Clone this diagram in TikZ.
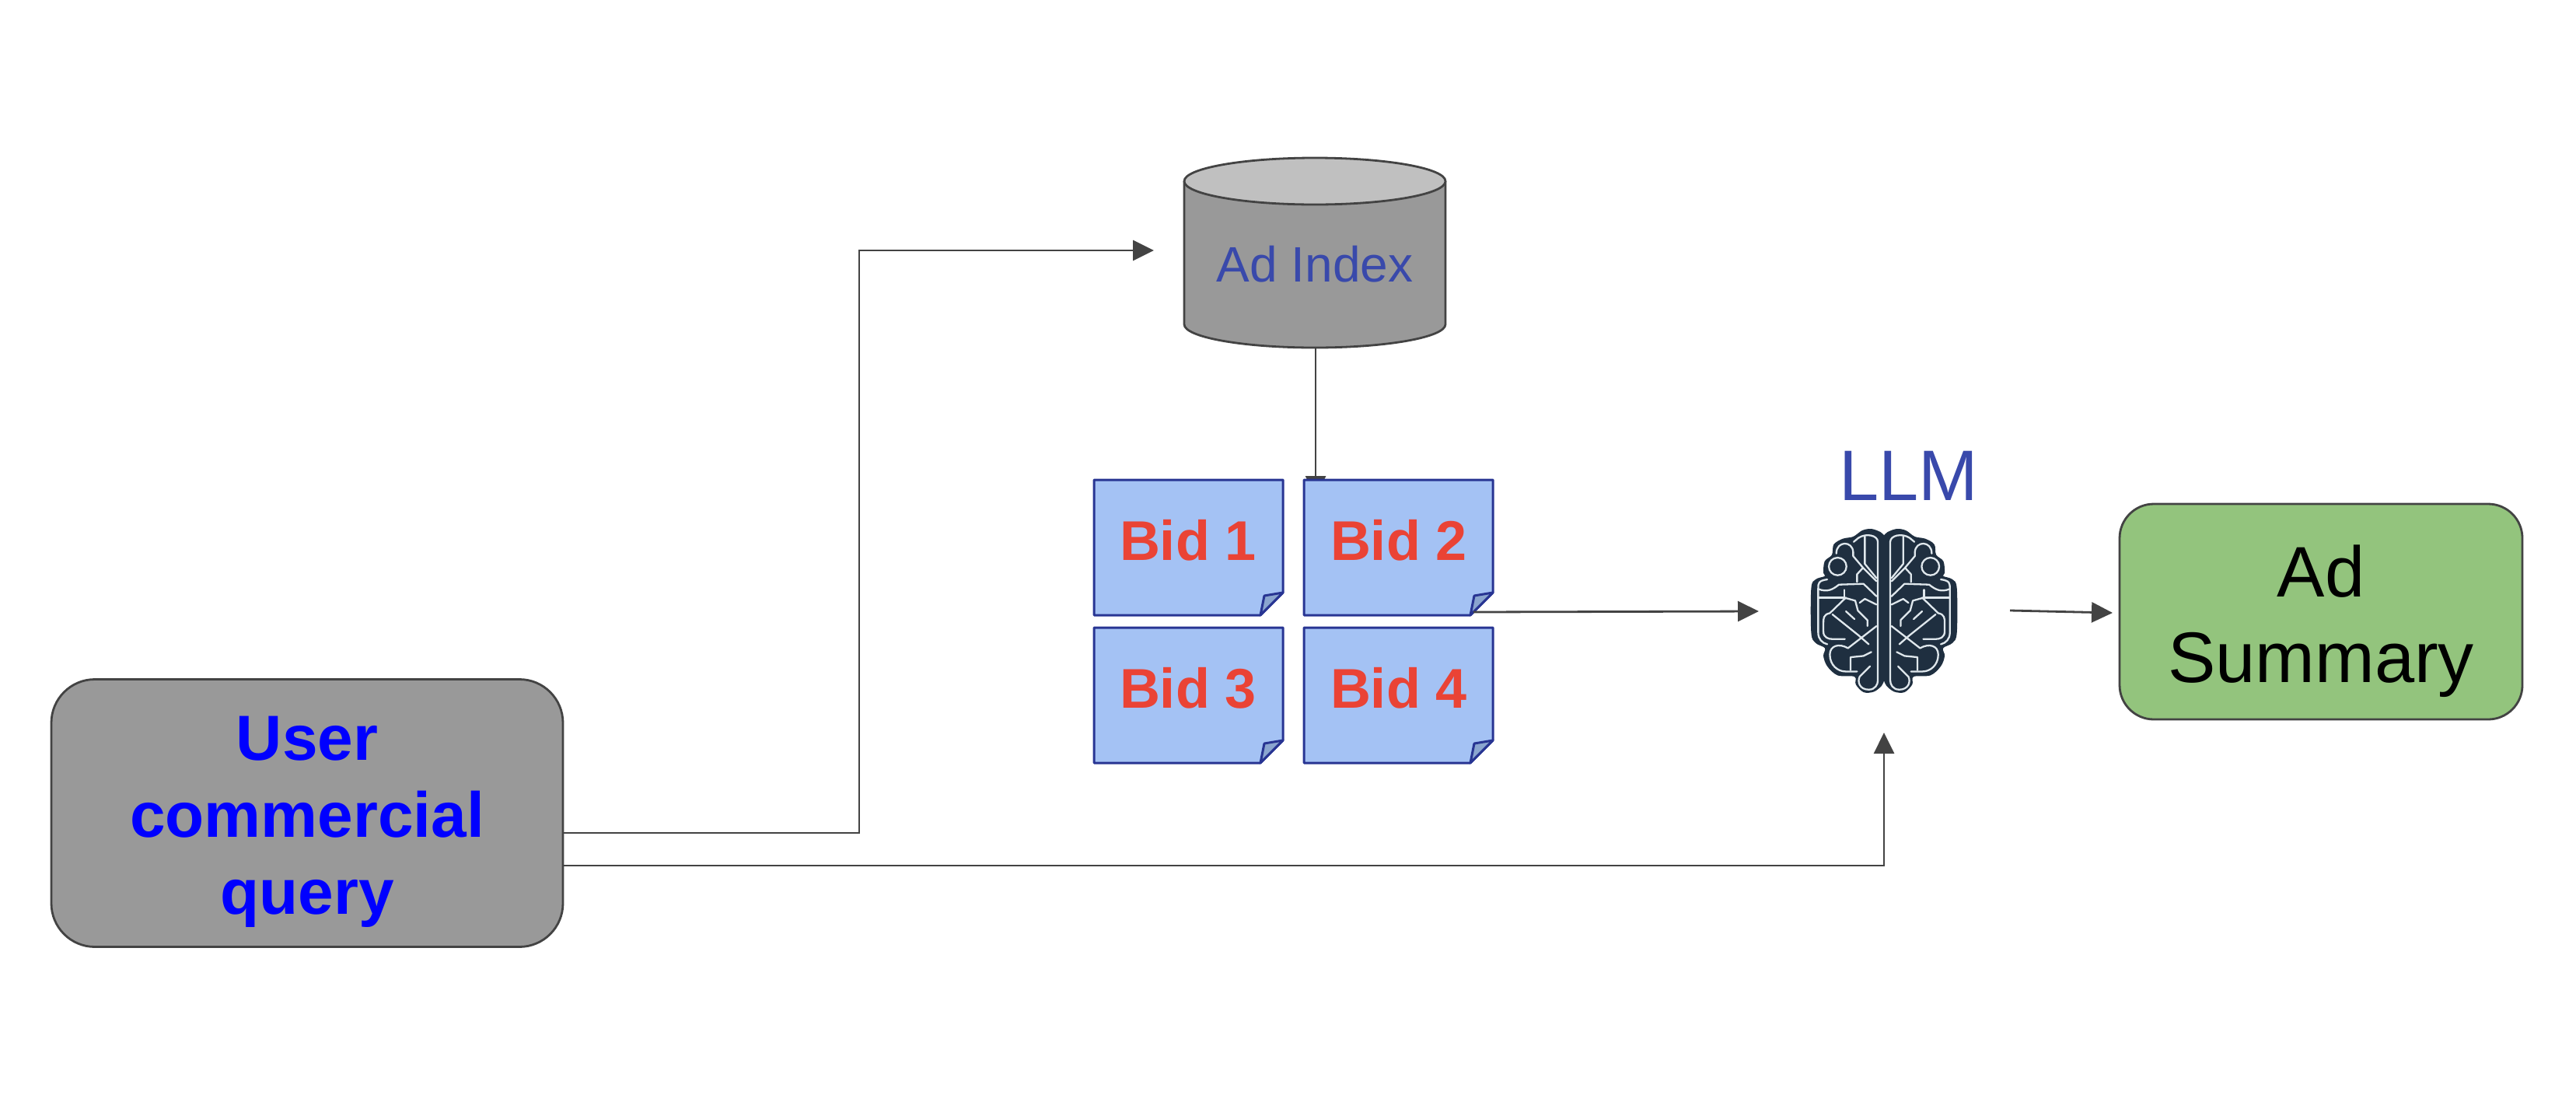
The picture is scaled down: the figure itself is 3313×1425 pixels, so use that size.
\documentclass[tikz,border=0pt]{standalone}
\usepackage{fontspec}
\setmainfont{Liberation Sans}
\usetikzlibrary{arrows.meta}
\definecolor{lineC}{HTML}{434343}
\definecolor{greyC}{HTML}{999999}
\definecolor{topC}{HTML}{C0C0C0}
\definecolor{indigoC}{HTML}{3949AB}
\definecolor{redC}{HTML}{EA4335}
\definecolor{bidC}{HTML}{A4C2F4}
\definecolor{bidL}{HTML}{283593}
\definecolor{foldC}{HTML}{8AA5CF}
\definecolor{greenC}{HTML}{93C47D}
\definecolor{brainD}{HTML}{1F2F40}
\definecolor{brainL}{HTML}{DFE7EC}
\tikzset{
  x=0.5pt,y=-0.5pt,
  conn/.style={draw=lineC,line width=1.4pt,-{Triangle[length=13.5pt,width=13pt]}},
  round box/.style={draw=lineC,line width=1.4pt,rounded corners=#1,inner sep=0pt},
  bidbox/.style={inner sep=0pt,minimum width=121.5pt,minimum height=87pt},
  bidtext/.style={font=\fontsize{36}{40}\selectfont\bfseries,text=redC},
  brainline/.style={draw=brainL,line width=1.15pt,line cap=round,line join=round}
}
\newcommand{\bidsheet}[3]{% name, left, top
  \fill[bidC] (#2,#3) -- ++(243,0) -- ++(0,145) -- ++(-29,29) -- ++(-214,0) -- cycle;
  \draw[bidL,line width=1.5pt,line join=round] (#2,#3) -- ++(243,0) -- ++(0,145) -- ++(-29,29) -- ++(-214,0) -- cycle;
  \draw[bidL,line width=1.5pt,line join=round,fill=foldC] (#2+243,#3+145) -- ++(-24,4) -- ++(-5,25) -- cycle;
  \node[bidbox] (#1) at (#2+121.5,#3+87) {};
}
\newcommand{\brainhalf}{%
  \fill[brainD] plot[smooth,tension=0.55] coordinates {(519,445) (505,432) (470,420) (435,426) (400,450) (360,458) (325,480) (318,520) (290,545) (285,590) (291,602) (255,615) (238,650) (238,820) (255,860) (291,880) (285,910) (300,950) (340,985) (405,990) (410,1020) (440,1050) (480,1048) (510,1025) (519,1005)} -- cycle;
  \draw[brainline] (495,1005) -- (495,470) .. controls (495,445) and (450,435) .. (420,455) -- (402,470);
  \draw[brainline] (445,450) -- (445,555) -- (490,610);
  \draw[brainline] (400,510) -- (400,525) -- (438,570) -- (490,622);
  \draw[brainline] (438,570) -- (415,595) -- (415,625);
  \draw[brainline] (400,510) .. controls (398,465) and (335,465) .. (335,515);
  \draw[brainline] (340,565) circle[radius=34];
  \draw[brainline] (300,615) .. controls (265,620) and (265,630) .. (265,650) -- (265,820) .. controls (265,845) and (280,860) .. (300,865);
  \draw[brainline] (265,652) .. controls (300,665) and (320,655) .. (345,635) -- (440,632) -- (490,680);
  \draw[brainline] (265,685) -- (365,685) -- (365,655);
  \draw[brainline] (365,685) -- (408,697) -- (418,735) -- (455,772) -- (455,795);
  \draw[brainline] (425,705) -- (445,690) -- (490,712);
  \draw[brainline] (372,685) -- (310,745) .. controls (285,750) and (285,765) .. (285,785) -- (285,815) .. controls (285,840) and (305,845) .. (320,845) -- (368,845);
  \draw[brainline] (320,750) -- (420,830) -- (460,865);
  \draw[brainline] (490,795) -- (380,880);
  \draw[brainline] (372,738) -- (405,768);
  \draw[brainline] (380,880) .. controls (345,860) and (310,870) .. (310,905) .. controls (310,945) and (340,970) .. (370,970) -- (415,970);
  \draw[brainline] (390,965) -- (390,915) -- (440,910) -- (470,895);
  \draw[brainline] (465,950) -- (425,990) .. controls (415,1010) and (425,1040) .. (460,1040) .. controls (485,1040) and (495,1020) .. (495,1005);
}
\begin{document}
\begin{tikzpicture}
\useasboundingbox (0,0) rectangle (3313,1425);
% anchors for connector ends
\coordinate (cylBottom) at (1692,447);
\coordinate (bidTip) at (1692,639);
\coordinate (idxIn) at (1484,322);
\coordinate (llmIn) at (2262,786);
\coordinate (llmUp) at (2423,942);
\coordinate (outStart) at (2585,785);
\coordinate (sumIn) at (2717,788);
\coordinate (userA) at (724,1071);
\coordinate (userB) at (724,1113);
\coordinate (bendA) at (1105,1071);
\coordinate (bendA2) at (1105,322);
\coordinate (bendB) at (2423,1113);
\coordinate (bidOut) at (1895,787);
% arrow hidden by the Bid 2 sheet
\draw[conn] (cylBottom) -- (bidTip);
% cylinder
\fill[greyC] (1523,233) -- (1523,417) arc[start angle=180,end angle=0,x radius=168,y radius=30] -- (1859,233) -- cycle;
\draw[lineC,line width=1.4pt] (1523,233) -- (1523,417) arc[start angle=180,end angle=0,x radius=168,y radius=30] -- (1859,233);
\draw[lineC,line width=1.4pt,fill=topC] (1691,233) ellipse[x radius=168,y radius=30];
\node[font=\fontsize{32}{36}\selectfont,text=indigoC] (adindex) at (1691,340) {Ad Index};
% bids
\bidsheet{bidA}{1407}{617}
\bidsheet{bidB}{1677}{617}
\bidsheet{bidC}{1407}{807}
\bidsheet{bidD}{1677}{807}
\node[bidtext] (bidAt) at (1528,695) {Bid 1};
\node[bidtext] (bidBt) at (1799,695) {Bid 2};
\node[bidtext] (bidCt) at (1528,885) {Bid 3};
\node[bidtext] (bidDt) at (1799,885) {Bid 4};
% user
\node[round box=28pt,fill=greyC,minimum width=329pt,minimum height=172pt] (user) at (395,1045.5) {};
\node[align=center,text=blue,font=\fontsize{41}{49.5}\selectfont\bfseries] (userText) at (395,1057) {User\\commercial\\query};
% summary
\node[round box=22pt,fill=greenC,minimum width=259pt,minimum height=138.5pt] (summary) at (2985,786.5) {};
\node[align=center,font=\fontsize{46}{55}\selectfont] (summaryText) at (2985,799) {Ad\\Summary};
% LLM
\node[font=\fontsize{46}{50}\selectfont,text=indigoC] (llm) at (2455,612) {LLM};
% brain, traced in coordinates of a 3x crop
\begin{scope}[shift={(2250,540)},x=0.1667pt,y=-0.1667pt]
  \brainhalf
  \begin{scope}[shift={(1038,0)},xscale=-1]
    \brainhalf
  \end{scope}
\end{scope}
% connectors
\draw[conn] (userA) -- (bendA) -- (bendA2) -- (idxIn);
\draw[conn] (userB) -- (bendB) -- (llmUp);
\draw[conn] (bidOut) -- (llmIn);
\draw[conn] (outStart) -- (sumIn);
\end{tikzpicture}
\end{document}
